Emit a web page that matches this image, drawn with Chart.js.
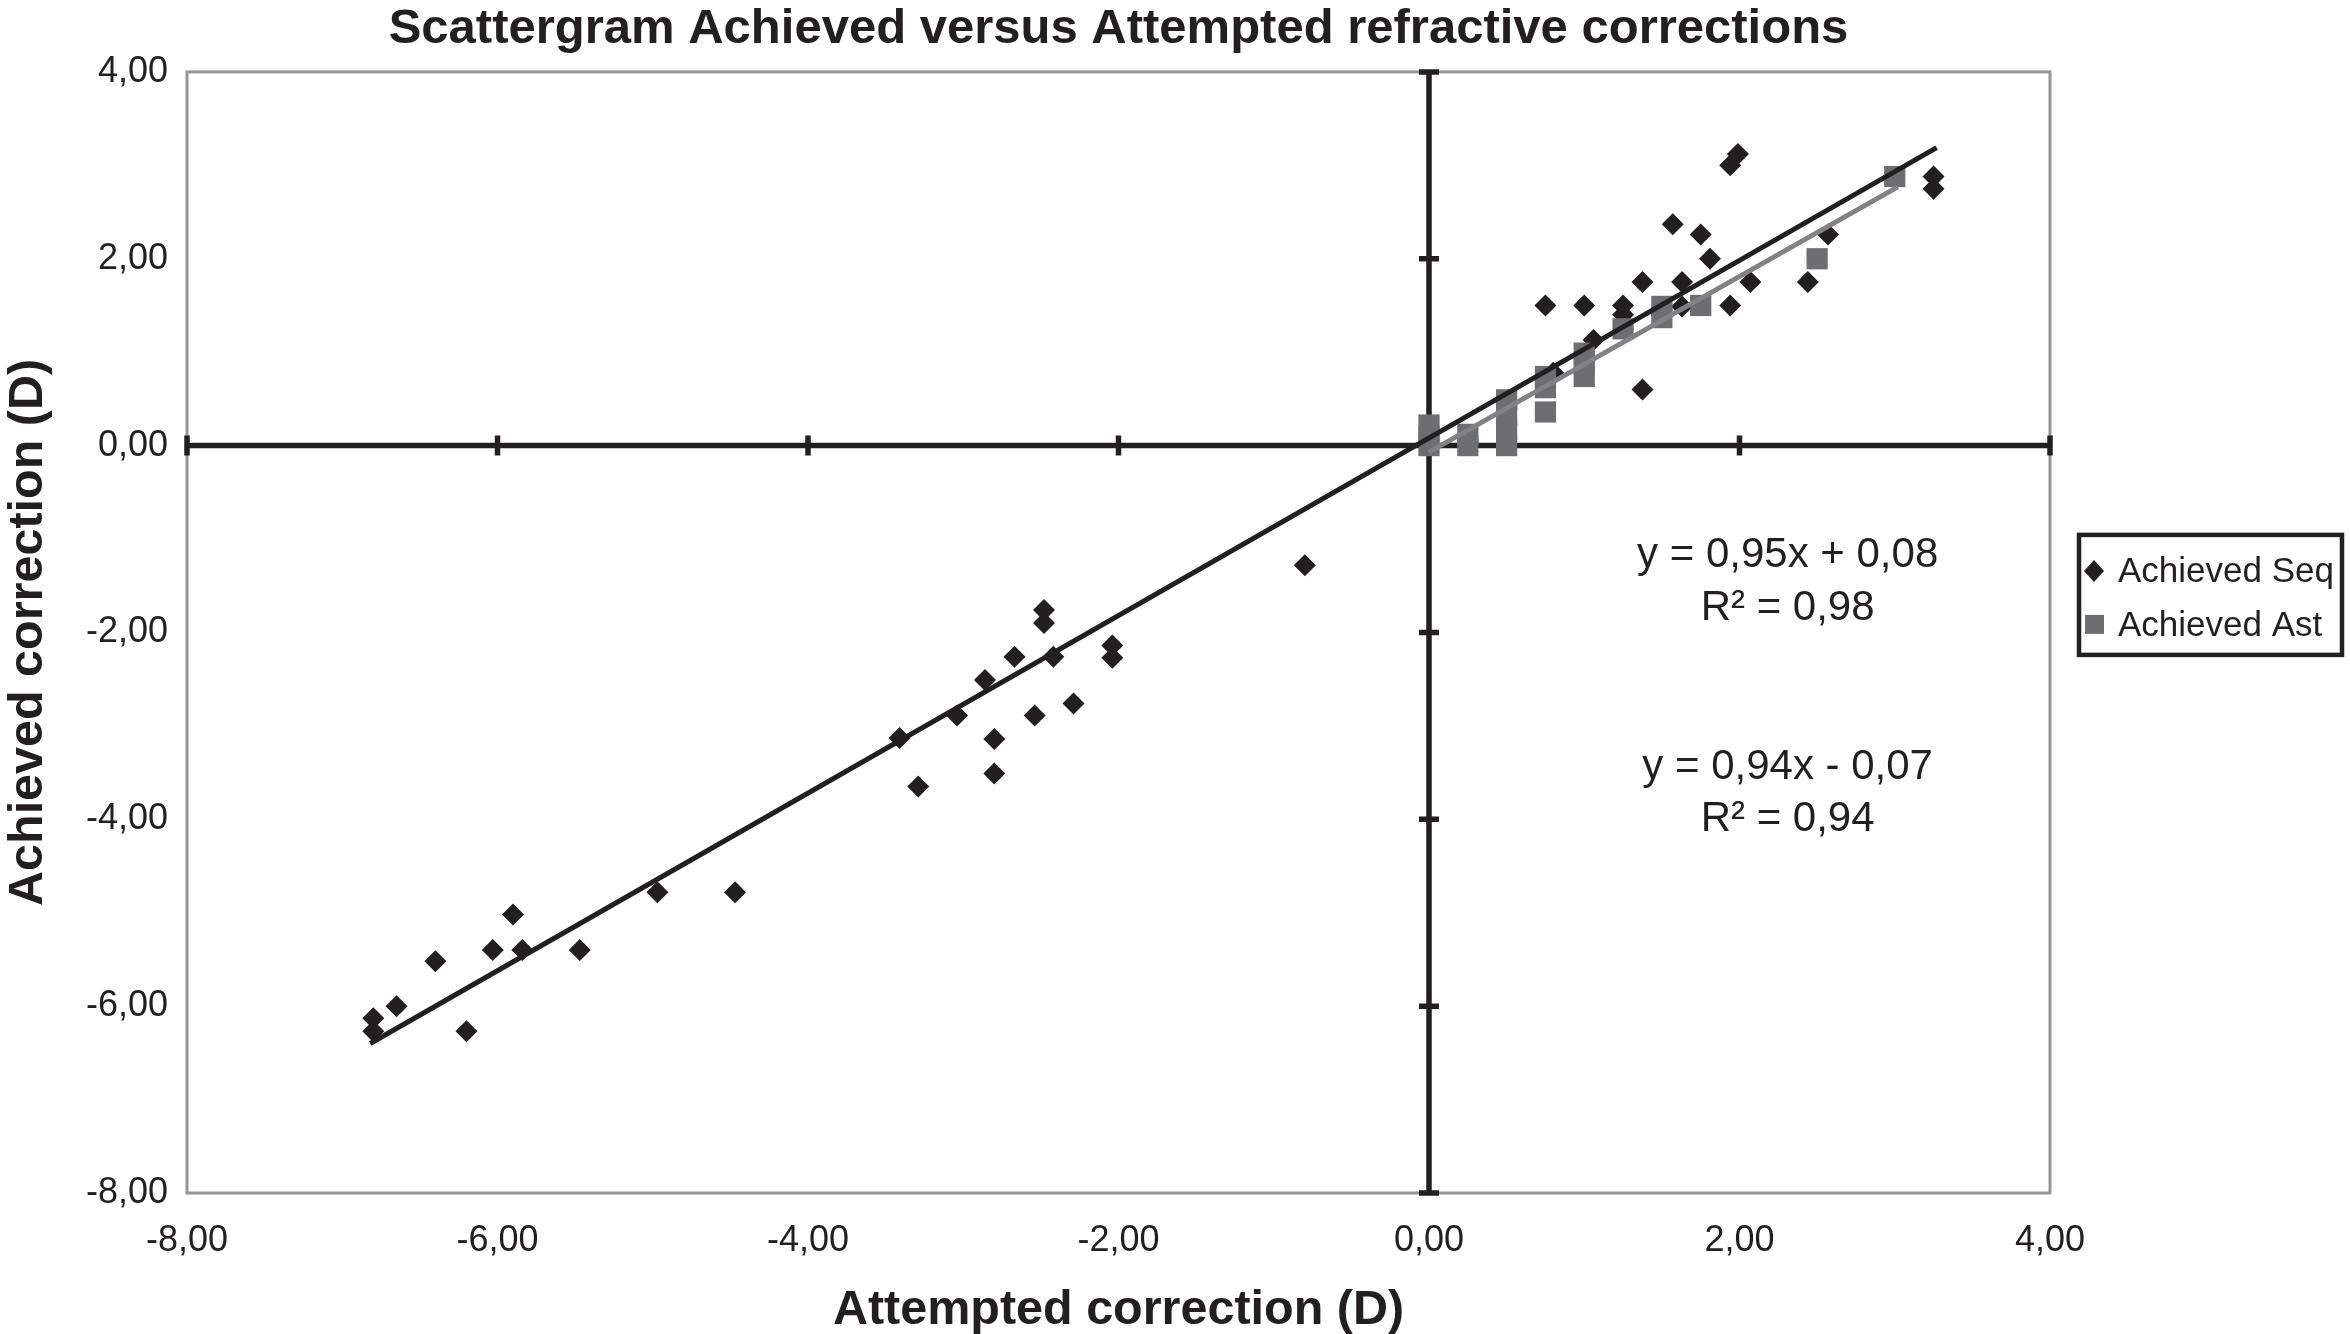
<!DOCTYPE html>
<html>
<head>
<meta charset="utf-8">
<script src="https://cdn.jsdelivr.net/npm/chart.js@4.4.1/dist/chart.umd.min.js"></script>
<style>
  html, body { margin: 0; padding: 0; background: #fff; }
  #wrap { width: 2350px; height: 1334px; }
</style>
</head>
<body>
<div id="wrap"><canvas id="chart1"></canvas></div>
<script>
// Achieved Seq (diamonds): attempted vs achieved correction
let seqX = [ -6.80, -6.80, -6.65, -6.40, -6.20, -6.03, -5.90, -5.84, -5.47, -4.97, -4.47,
             -3.41, -3.29, -3.04, -2.86, -2.80, -2.80, -2.67, -2.54, -2.48, -2.48, -2.42, -2.29, -2.04, -2.04, -0.80,
             0.75, 0.80, 1.00, 1.06, 1.25, 1.25, 1.375, 1.375, 1.57, 1.63, 1.63, 1.75, 1.81, 1.94, 1.94, 1.99, 2.07, 2.44, 2.57, 3.25, 3.25 ];
let seqY = [ -6.13, -6.27, -6.00, -5.52, -6.27, -5.40, -5.02, -5.40, -5.40, -4.78, -4.78,
             -3.13, -3.65, -2.89, -2.51, -3.14, -3.51, -2.26, -2.89, -1.76, -1.90, -2.26, -2.76, -2.14, -2.27, -1.28,
             1.50, 0.78, 1.50, 1.13, 1.50, 1.40, 1.75, 0.60, 2.37, 1.75, 1.49, 2.26, 2.00, 1.50, 3.00, 3.12, 1.75, 1.75, 2.26, 2.88, 2.75 ];

// Achieved Ast (squares)
let astX = [ 0, 0, 0, 0.25, 0.25, 0.5, 0.5, 0.5, 0.5, 0.75, 0.75, 0.75, 1, 1, 1, 1.25, 1.5, 1.5, 1.75, 2.5, 3.0 ];
let astY = [ 0, 0.10, 0.22, 0, 0.12, 0, 0.17, 0.33, 0.49, 0.74, 0.62, 0.36, 0.99, 0.87, 0.74, 1.25, 1.49, 1.37, 1.50, 2.00, 2.88 ];

// trend line end points as drawn
let seqFitX = [ -6.82, 3.27 ];
let seqFitY = [ -6.40, 3.19 ];
let astFitX = [ 0, 3.02 ];
let astFitY = [ -0.07, 2.77 ];

// axis ticks
let tickValues = [ -8, -6, -4, -2, 0, 2, 4 ];

let seqLabel = 'Achieved Seq';
let astLabel = 'Achieved Ast';
let seqEq = [ 'y = 0,95x + 0,08', 'R\u00B2 = 0,98' ];
let astEq = [ 'y = 0,94x - 0,07', 'R\u00B2 = 0,94' ];

const FONT = "'Liberation Sans Narrow', 'Liberation Sans', Arial, sans-serif";
const INK = '#231f20';
const GREY = '#6d6e71';

function pts(xs, ys) {
  return xs.map((x, i) => ({ x: x, y: ys[i] }));
}
function fmt(v) {
  return v.toFixed(2).replace('.', ',');
}

// frame, zero axes with tick marks, equations and legend box
const decor = {
  id: 'decor',
  beforeDatasetsDraw(chart) {
    const { ctx, chartArea: a, scales: { x, y } } = chart;
    ctx.save();
    ctx.strokeStyle = '#939598';
    ctx.lineWidth = 3;
    ctx.strokeRect(a.left, a.top, a.right - a.left, a.bottom - a.top);

    const x0 = x.getPixelForValue(0);
    const y0 = y.getPixelForValue(0);
    ctx.strokeStyle = INK;
    ctx.lineWidth = 5.5;
    ctx.beginPath();
    ctx.moveTo(a.left, y0); ctx.lineTo(a.right, y0);
    ctx.moveTo(x0, a.top); ctx.lineTo(x0, a.bottom);
    tickValues.forEach(v => {
      const px = x.getPixelForValue(v);
      ctx.moveTo(px, y0 - 10); ctx.lineTo(px, y0 + 10);
      const py = y.getPixelForValue(v);
      ctx.moveTo(x0 - 10, py); ctx.lineTo(x0 + 10, py);
    });
    ctx.stroke();
    ctx.restore();
  },
  afterDraw(chart) {
    const { ctx, chartArea: a, scales: { x, y } } = chart;
    ctx.save();
    ctx.fillStyle = INK;
    ctx.font = '42px ' + FONT;
    ctx.textAlign = 'center';
    ctx.textBaseline = 'middle';
    const ex = x.getPixelForValue(2.31);
    ctx.fillText(seqEq[0], ex, y.getPixelForValue(-1.18));
    ctx.fillText(seqEq[1], ex, y.getPixelForValue(-1.74));
    ctx.fillText(astEq[0], ex, y.getPixelForValue(-3.45));
    ctx.fillText(astEq[1], ex, y.getPixelForValue(-4.00));

    // legend
    const lx = a.right + 29, ly = a.top + 463;
    ctx.strokeStyle = INK;
    ctx.lineWidth = 4.5;
    ctx.strokeRect(lx, ly, 263, 120);
    ctx.font = '35px ' + FONT;
    ctx.textAlign = 'left';
    ctx.fillStyle = INK;
    ctx.beginPath();
    ctx.moveTo(lx + 15, ly + 25); ctx.lineTo(lx + 25, ly + 36);
    ctx.lineTo(lx + 15, ly + 47); ctx.lineTo(lx + 5, ly + 36);
    ctx.closePath(); ctx.fill();
    ctx.fillText(seqLabel, lx + 39, ly + 37);
    ctx.fillStyle = GREY;
    ctx.fillRect(lx + 6, ly + 80, 19, 19);
    ctx.fillStyle = INK;
    ctx.fillText(astLabel, lx + 39, ly + 91);
    ctx.restore();
  }
};

let options = {
  type: 'scatter',
  data: {
    datasets: [
      { label: seqLabel, data: pts(seqX, seqY), pointStyle: 'rectRot', pointRadius: 11,
        backgroundColor: INK, borderWidth: 0, order: 3 },
      { label: astLabel, data: pts(astX, astY), pointStyle: 'rect', pointRadius: 15,
        backgroundColor: GREY, borderWidth: 0, order: 2 },
      { type: 'line', data: pts(seqFitX, seqFitY), borderColor: INK, borderWidth: 5,
        pointRadius: 0, fill: false, order: 0 },
      { type: 'line', data: pts(astFitX, astFitY), borderColor: '#808285', borderWidth: 5,
        pointRadius: 0, fill: false, order: 1 }
    ]
  },
  options: {
    responsive: true,
    maintainAspectRatio: false,
    animation: false,
    layout: { padding: { left: 0, right: 300, top: 0, bottom: 0 } },
    plugins: {
      legend: { display: false },
      tooltip: { enabled: false },
      title: {
        display: true,
        fullSize: false,
        text: 'Scattergram Achieved versus Attempted refractive corrections',
        color: INK,
        font: { family: FONT, size: 49, weight: 'bold', lineHeight: 1.1 },
        padding: { top: 3, bottom: 15 }
      }
    },
    scales: {
      x: {
        type: 'linear', min: -8, max: 4,
        afterBuildTicks: s => { s.ticks = tickValues.map(v => ({ value: v })); },
        grid: { display: false, drawTicks: false },
        border: { display: false },
        ticks: { color: INK, font: { family: FONT, size: 36 }, padding: 26, callback: v => fmt(v) },
        title: { display: true, text: 'Attempted correction (D)', color: INK,
                 font: { family: FONT, size: 48.5, weight: 'bold', lineHeight: 0.95 }, padding: { top: 14, bottom: 0 } },
        afterFit: s => { s.height = 141; }
      },
      y: {
        type: 'linear', min: -8, max: 4,
        afterBuildTicks: s => { s.ticks = tickValues.map(v => ({ value: v })); },
        grid: { display: false, drawTicks: false },
        border: { display: false },
        ticks: { color: INK, font: { family: FONT, size: 36 }, padding: 19, callback: v => fmt(v) },
        title: { display: true, text: 'Achieved correction (D)', color: INK,
                 font: { family: FONT, size: 48.5, weight: 'bold' }, padding: { top: 0, bottom: 10 } },
        afterFit: s => { s.width = 187; }
      }
    }
  },
  plugins: [ decor ]
};

let chart = new Chart(document.getElementById('chart1'), options);
</script>
</body>
</html>
